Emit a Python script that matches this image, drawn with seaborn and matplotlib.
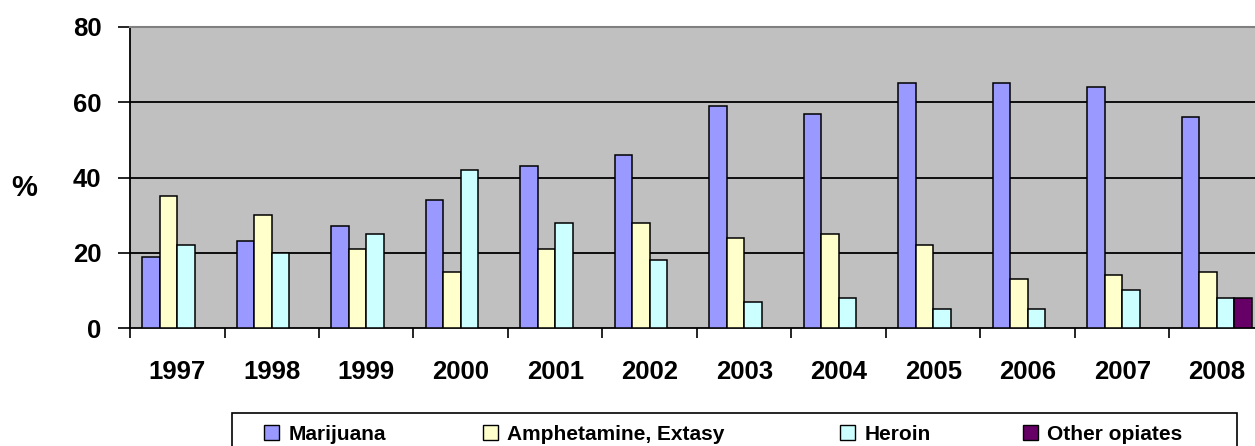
import matplotlib
matplotlib.use("Agg")
import matplotlib.pyplot as plt
import numpy as np
import pandas as pd
import seaborn as sns
from matplotlib.patches import Rectangle
from matplotlib.ticker import FixedLocator

# Share of treated users by main drug, per year (%)
years = ["1997", "1998", "1999", "2000", "2001", "2002",
         "2003", "2004", "2005", "2006", "2007", "2008"]
marijuana = [19, 23, 27, 34, 43, 46, 59, 57, 65, 65, 64, 56]
amphetamine = [35, 30, 21, 15, 21, 28, 24, 25, 22, 13, 14, 15]
heroin = [22, 20, 25, 42, 28, 18, 7, 8, 5, 5, 10, 8]
other_opiates_years = ["2008"]
other_opiates = [8]

drugs = ["Marijuana", "Amphetamine, Extasy", "Heroin", "Other opiates"]
colors = ["#9999FF", "#FFFFCC", "#CCFFFF", "#660066"]
y_ticks = [0, 20, 40, 60, 80]

rows = []
for yr, m, a, h in zip(years, marijuana, amphetamine, heroin):
    rows.append((yr, drugs[0], m))
    rows.append((yr, drugs[1], a))
    rows.append((yr, drugs[2], h))
for yr, v in zip(other_opiates_years, other_opiates):
    rows.append((yr, drugs[3], v))
df = pd.DataFrame(rows, columns=["year", "drug", "pct"])

sns.set_style("white")
plt.rcParams["font.family"] = ["Liberation Sans", "DejaVu Sans"]
plt.rcParams["font.weight"] = "bold"
plt.rcParams["text.color"] = "black"
plt.rcParams["xtick.color"] = "black"
plt.rcParams["ytick.color"] = "black"
plt.rcParams["xtick.labelcolor"] = "black"
plt.rcParams["ytick.labelcolor"] = "black"

W, H = 1255, 446
fig = plt.figure(figsize=(W / 100, H / 100), dpi=100)
ax = fig.add_axes([130 / W, 1 - 328 / H, 1134 / W, 301 / H])
ax.set_facecolor("#C0C0C0")

sns.barplot(data=df, x="year", y="pct", hue="drug", order=years,
            hue_order=drugs, palette=colors, width=0.74, saturation=1,
            edgecolor="black", linewidth=1.1, errorbar=None, ax=ax,
            zorder=3)

ax.set_xlim(-0.5, len(years) - 0.5)
ax.set_ylim(0, 80)
ax.set_yticks(y_ticks)
ax.set_yticklabels([str(t) for t in y_ticks], fontsize=18.5,
                   fontweight="bold", color="black")
ax.set_xticks(range(len(years)))
ax.set_xticklabels(years, fontsize=18.5, fontweight="bold", color="black")
ax.xaxis.set_minor_locator(FixedLocator(np.arange(-0.5, len(years), 1.0)))
ax.tick_params(axis="x", which="major", length=0, pad=23)
ax.tick_params(axis="x", which="minor", length=7, width=1.2,
               color="black", direction="out", bottom=True)
ax.tick_params(axis="y", which="major", length=8.5, width=1.2,
               color="black", direction="out", pad=12, left=True)

for t in y_ticks[1:-1]:
    ax.axhline(t, color="black", linewidth=1.3, zorder=1)

for side in ["left", "bottom"]:
    ax.spines[side].set_color("black")
    ax.spines[side].set_linewidth(1.3)
ax.spines["top"].set_color("#808080")
ax.spines["top"].set_linewidth(1.5)
ax.spines["right"].set_visible(False)

ax.set_xlabel("")
ax.set_ylabel("")
fig.text(24 / W, 1 - 188 / H, "%", fontsize=21, fontweight="bold",
         ha="center", va="center", color="black")

handles, labels = ax.get_legend_handles_labels()
if ax.get_legend() is not None:
    ax.get_legend().remove()

# Legend frame spanning below the plot, entries placed at fixed columns
fig.add_artist(Rectangle((232 / W, -0.02), (1237 - 232) / W, 0.02 + (446 - 413) / H,
                         transform=fig.transFigure, facecolor="white",
                         edgecolor="black", linewidth=1.2, zorder=0))
entry_x = [264, 483, 840, 1023]
for h, lab, x in zip(handles, labels, entry_x):
    leg = fig.legend([h], [lab], loc="center left",
                     bbox_to_anchor=(x / W, 1 - 434 / H), frameon=False,
                     prop={"weight": "bold", "size": 15}, handlelength=0.72,
                     handleheight=0.72, handletextpad=0.45,
                     borderpad=0, borderaxespad=0)
    for lh in leg.legend_handles:
        lh.set_edgecolor("black")
        lh.set_linewidth(1.0)
    for txt in leg.get_texts():
        txt.set_color("black")

fig.savefig("out.png", dpi=100)
